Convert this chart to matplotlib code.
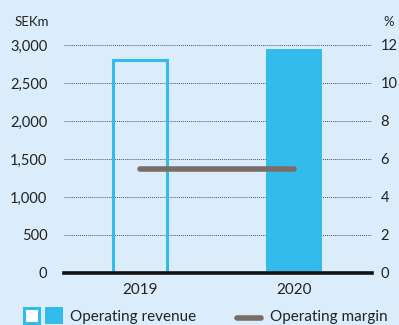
import matplotlib.pyplot as plt
from matplotlib.patches import Rectangle
from matplotlib.lines import Line2D

years = ['2019', '2020']
revenue = [2800, 2950]          # SEKm
margin = [5.5, 5.5]             # %
left_ticks = [0, 500, 1000, 1500, 2000, 2500, 3000]
right_ticks = [0, 2, 4, 6, 8, 10, 12]

BG = '#dbedfb'
BLUE = '#33bbec'
GREY = '#7a6d66'
TXT = '#222222'

plt.rcParams['font.family'] = ['Lato', 'DejaVu Sans']

fig = plt.figure(figsize=(3.99, 3.25), dpi=100, facecolor=BG)
W, H = 399, 325
ax = fig.add_axes([64/W, 52/H, 308/W, 228/H])
ax.set_facecolor(BG)

x = list(range(len(years)))
ax.set_xlim(-0.494, 1.506)
ax.set_ylim(0, 3000)
ax.set_yticks(left_ticks)
ax.set_yticklabels([f'{v:,}' for v in left_ticks])
ax.grid(axis='y', linestyle=(0, (1, 1)), color='#555555', linewidth=0.7)
ax.set_axisbelow(True)

# hollow 2019 bar, filled 2020 bar
ax.bar(x[0], revenue[0], width=0.35, facecolor='none', edgecolor=BLUE, linewidth=2.2)
ax.bar(x[1], revenue[1], width=0.36, color=BLUE, linewidth=0)

for s in ['left', 'right', 'top']:
    ax.spines[s].set_visible(False)
ax.spines['bottom'].set_color('#111111')
ax.spines['bottom'].set_linewidth(2.6)
ax.spines['bottom'].set_zorder(5)
ax.set_xticks(x)
ax.set_xticklabels(years)
ax.tick_params(length=0, labelsize=10.5, colors=TXT)
ax.tick_params(axis='x', labelsize=11, pad=7)
ax.tick_params(axis='y', pad=12)

ax2 = ax.twinx()
ax2.set_ylim(0, 12)
ax2.set_yticks(right_ticks)
for s in ax2.spines.values():
    s.set_visible(False)
ax2.tick_params(length=0, labelsize=10.5, colors=TXT, pad=6)
ax2.plot(x, margin, color=GREY, linewidth=4, solid_capstyle='round', zorder=6)

fig.text(15/W, 1 - 22/H, 'SEKm', fontsize=9.5, color=TXT, va='center', ha='left')
fig.text(383/W, 1 - 22/H, '%', fontsize=9.5, color=TXT, va='center', ha='left')

# legend
fig.add_artist(Rectangle((24/W, 1 - 323/H), 15/W, 15/H, transform=fig.transFigure,
                         facecolor='white', edgecolor=BLUE, linewidth=2.2))
fig.add_artist(Rectangle((45/W, 1 - 324/H), 18/W, 17/H, transform=fig.transFigure,
                         facecolor=BLUE, edgecolor='none'))
fig.text(70/W, 1 - 317/H, 'Operating revenue', fontsize=11, color=TXT, va='center', ha='left')
fig.add_artist(Line2D([237/W, 261/W], [1 - 318/H, 1 - 318/H], transform=fig.transFigure,
                      color=GREY, linewidth=4, solid_capstyle='round'))
fig.text(270/W, 1 - 317/H, 'Operating margin', fontsize=11, color=TXT, va='center', ha='left')

fig.savefig('out.png', dpi=100, facecolor=BG)
